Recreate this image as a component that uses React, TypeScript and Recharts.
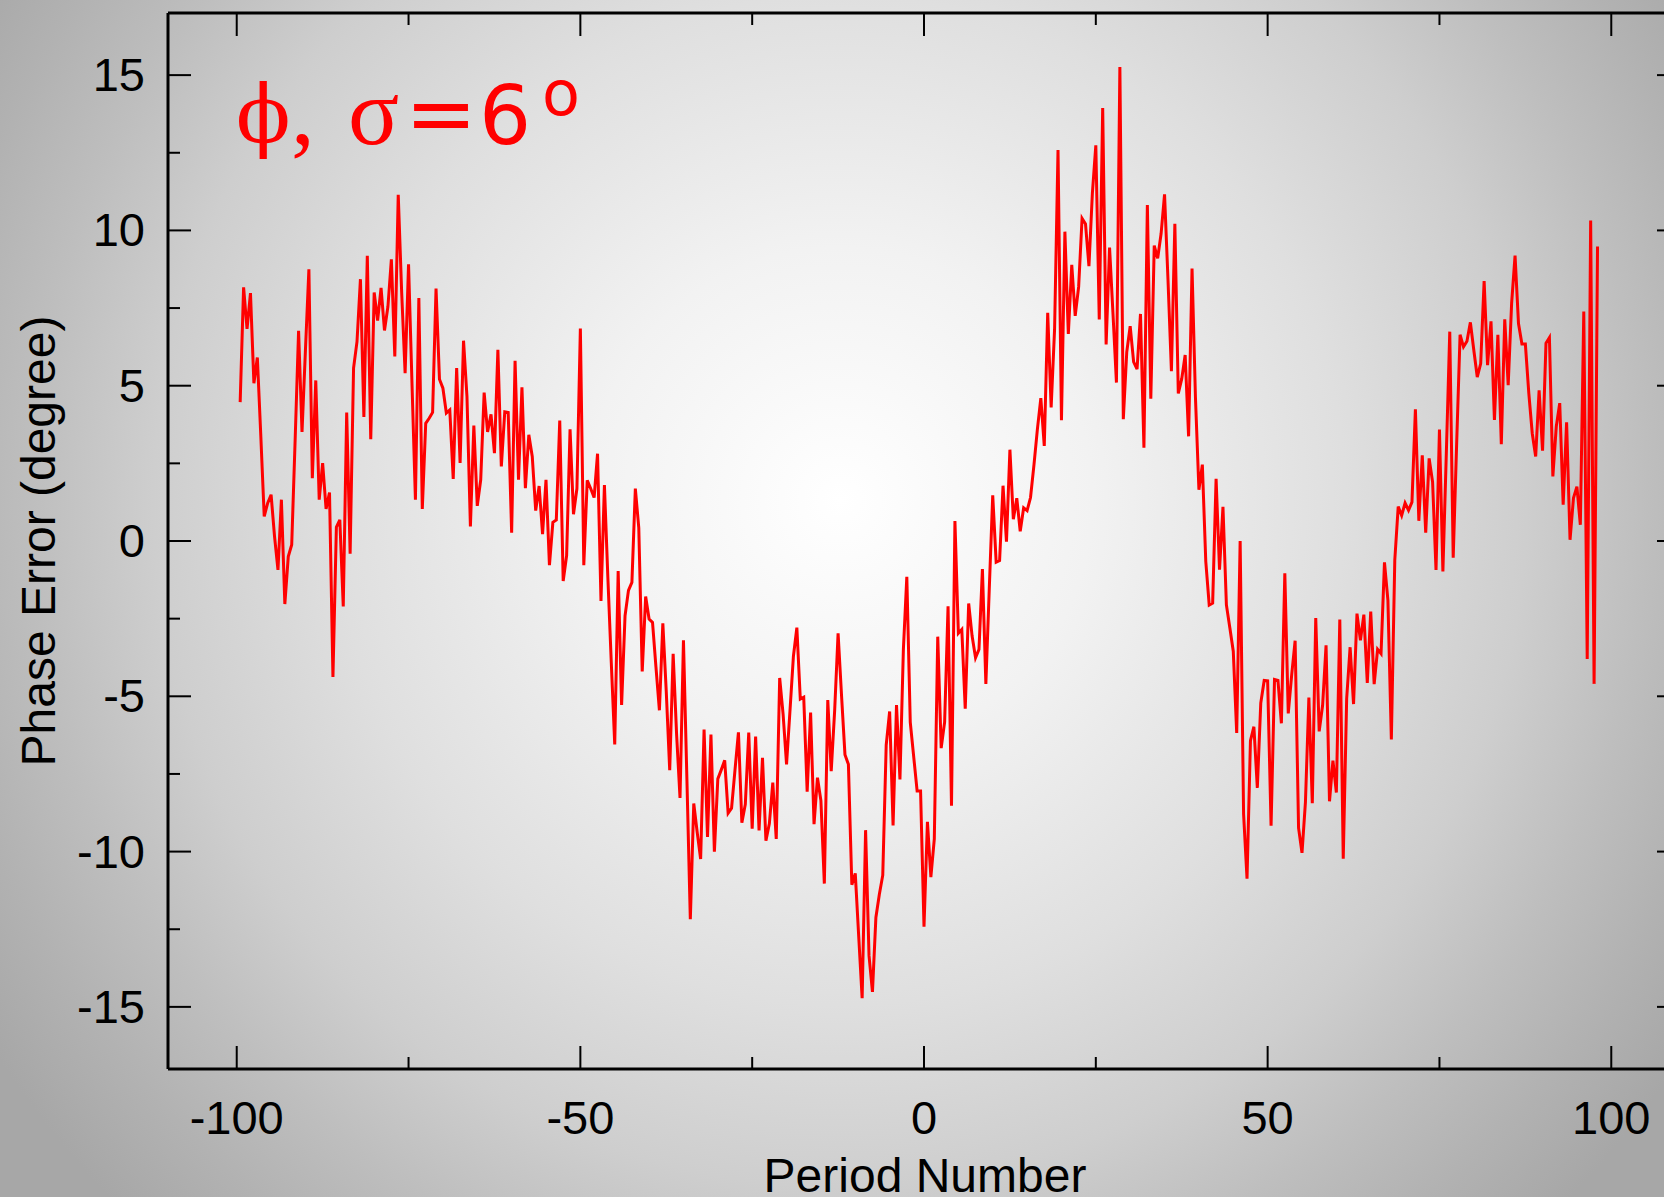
import React from 'react';
import { LineChart, Line, XAxis, YAxis } from 'recharts';

// ---- data ----
const PERIOD_START = -99.5;
const PERIOD_STEP = 0.5;

const PHASE_ERROR: number[] = [
  4.47, 8.17, 6.83, 7.98, 5.08, 5.91, 3.4, 0.79, 1.22, 1.49,
  0.15, -0.93, 1.33, -2.03, -0.5, -0.12, 3.26, 6.77, 3.51, 6.16,
  8.75, 2.02, 5.17, 1.33, 2.51, 1.03, 1.56, -4.38, 0.45, 0.68,
  -2.11, 4.14, -0.41, 5.57, 6.42, 8.43, 3.99, 9.18, 3.28, 8.0,
  7.1, 8.15, 6.78, 7.55, 9.07, 5.94, 11.15, 8.0, 5.4, 8.91,
  5.08, 1.33, 7.82, 1.03, 3.79, 3.95, 4.14, 8.13, 5.21, 4.92,
  4.12, 4.22, 2.0, 5.57, 2.51, 6.45, 4.65, 0.47, 3.72, 1.13,
  1.97, 4.78, 3.51, 4.08, 2.83, 6.16, 2.4, 4.16, 4.14, 0.27,
  5.8, 1.97, 4.95, 1.7, 3.42, 2.72, 0.98, 1.77, 0.22, 1.97,
  -0.78, 0.6, 0.68, 3.88, -1.29, -0.47, 3.6, 0.86, 1.69, 6.84,
  -0.78, 1.95, 1.69, 1.4, 2.81, -1.93, 1.8, -1.17, -3.92, -6.55,
  -0.97, -5.28, -2.41, -1.59, -1.33, 1.69, 0.42, -4.2, -1.79, -2.51,
  -2.62, -4.06, -5.45, -2.65, -4.86, -7.38, -3.63, -6.22, -8.27, -3.2,
  -7.65, -12.18, -8.45, -9.38, -10.24, -6.07, -9.53, -6.23, -10.0, -7.66,
  -7.37, -7.06, -8.76, -8.6, -7.37, -6.16, -9.07, -8.48, -6.17, -9.26,
  -6.3, -9.32, -6.98, -9.65, -9.1, -7.78, -9.59, -4.41, -5.58, -7.19,
  -5.46, -3.71, -2.79, -5.09, -5.03, -8.07, -5.52, -9.12, -7.62, -8.36,
  -11.03, -5.12, -7.41, -5.46, -2.97, -4.97, -6.88, -7.19, -11.07, -10.7,
  -12.73, -14.72, -9.31, -13.35, -14.52, -12.12, -11.38, -10.76, -6.57, -5.49,
  -9.16, -5.28, -7.68, -3.49, -1.15, -5.83, -6.94, -8.05, -8.05, -12.42,
  -9.04, -10.82, -9.59, -3.08, -6.67, -5.83, -2.1, -8.52, 0.64, -2.97,
  -2.85, -5.4, -2.01, -3.06, -3.76, -3.49, -0.9, -4.6, -1.52, 1.47,
  -0.68, -0.63, 1.78, -0.02, 2.94, 0.7, 1.38, 0.31, 1.07, 0.98,
  1.4, 2.45, 3.6, 4.6, 3.06, 7.35, 4.3, 6.82, 12.59, 3.89,
  9.96, 6.67, 8.89, 7.25, 8.18, 10.39, 10.21, 8.85, 11.2, 12.74,
  7.13, 13.94, 6.33, 9.45, 7.31, 5.1, 15.26, 3.92, 6.08, 6.92,
  5.77, 5.53, 7.31, 3.0, 10.82, 4.58, 9.51, 9.1, 9.9, 11.16,
  8.42, 5.47, 10.21, 4.75, 5.22, 5.99, 3.37, 8.77, 4.6, 1.65,
  2.46, -0.66, -2.06, -2.0, 2.0, -0.92, 1.1, -2.06, -2.79, -3.55,
  -6.18, 0.0, -8.79, -10.87, -6.43, -5.98, -7.95, -5.22, -4.49, -4.5,
  -9.17, -4.46, -4.49, -5.87, -1.04, -5.55, -4.31, -3.21, -9.24, -10.04,
  -8.41, -5.04, -8.44, -2.48, -6.13, -5.29, -3.36, -8.38, -7.07, -8.1,
  -2.53, -10.23, -5.07, -3.42, -5.25, -2.34, -3.2, -2.37, -4.57, -2.27,
  -4.61, -3.49, -3.63, -0.69, -1.91, -6.39, -0.62, 1.11, 0.82, 1.22,
  0.99, 1.25, 4.24, 0.65, 2.76, 0.27, 2.66, 1.9, -0.93, 3.59,
  -0.98, 2.83, 6.74, -0.54, 3.12, 6.64, 6.25, 6.43, 7.04, 6.14,
  5.28, 5.71, 8.37, 5.66, 7.07, 3.9, 6.64, 3.12, 7.14, 5.02,
  7.65, 9.19, 7.0, 6.34, 6.34, 4.76, 3.47, 2.72, 4.85, 2.91,
  6.37, 6.55, 2.08, 3.69, 4.44, 1.17, 3.82, 0.04, 1.38, 1.75,
  0.52, 7.39, -3.8, 10.32, -4.6, 9.48,
];

const X_DOMAIN: [number, number] = [-110, 110];
const Y_DOMAIN: [number, number] = [-17, 17];
const X_TICKS = [-100, -75, -50, -25, 0, 25, 50, 75, 100];
const X_MAJOR = [-100, -50, 0, 50, 100];
const Y_TICKS = [-15, -12.5, -10, -7.5, -5, -2.5, 0, 2.5, 5, 7.5, 10, 12.5, 15];
const Y_MAJOR = [-15, -10, -5, 0, 5, 10, 15];

const X_TITLE = 'Period Number';
const Y_TITLE = 'Phase Error (degree)';

const DATA = PHASE_ERROR.map((v, i) => ({
  period: PERIOD_START + i * PERIOD_STEP,
  phase: v,
}));

// ---- styling ----
const SANS = '"Liberation Sans", Arial, sans-serif';
const SERIF = '"Liberation Serif", "Times New Roman", serif';
const MAJOR_LEN = 23;
const MINOR_LEN = 12;
const TICK_FONT = 47;

const BottomTick = (props: any) => {
  const { x, y, payload } = props;
  const major = X_MAJOR.includes(payload.value);
  return (
    <g>
      <line x1={x} y1={y} x2={x} y2={y - (major ? MAJOR_LEN : MINOR_LEN)} stroke="#000" strokeWidth={2} />
      {major && (
        <text x={x} y={y + 65} textAnchor="middle" fontFamily={SANS} fontSize={TICK_FONT} fill="#000">
          {String(payload.value)}
        </text>
      )}
    </g>
  );
};

const TopTick = (props: any) => {
  const { x, y, payload } = props;
  const major = X_MAJOR.includes(payload.value);
  return (
    <line x1={x} y1={y} x2={x} y2={y + (major ? MAJOR_LEN : MINOR_LEN)} stroke="#000" strokeWidth={2} />
  );
};

const LeftTick = (props: any) => {
  const { x, y, payload } = props;
  const major = Y_MAJOR.includes(payload.value);
  return (
    <g>
      <line x1={x} y1={y} x2={x + (major ? MAJOR_LEN : MINOR_LEN)} y2={y} stroke="#000" strokeWidth={2} />
      {major && (
        <text x={x - 23} y={y + 16} textAnchor="end" fontFamily={SANS} fontSize={TICK_FONT} fill="#000">
          {String(payload.value)}
        </text>
      )}
    </g>
  );
};

const RightTick = (props: any) => {
  const { x, y, payload } = props;
  const major = Y_MAJOR.includes(payload.value);
  return (
    <line x1={x} y1={y} x2={x - (major ? MAJOR_LEN : MINOR_LEN)} y2={y} stroke="#000" strokeWidth={2} />
  );
};

const AXIS_LINE = { stroke: '#000', strokeWidth: 3 };

export default function App() {
  return (
    <div
      style={{
        position: 'absolute',
        left: 0,
        top: 0,
        width: 1664,
        height: 1197,
        overflow: 'hidden',
        background:
          'radial-gradient(circle 1010px at 840px 500px, #ffffff 0%, #f2f2f2 25%, #dfdfdf 50%, #cecece 68%, #bebebe 80%, #b2b2b2 90%, #a7a7a7 100%)',
      }}
    >
      <LineChart
        width={1700}
        height={1197}
        data={DATA}
        margin={{ top: 3, right: 10, bottom: 28, left: 68 }}
      >
        <XAxis
          xAxisId="bottom"
          orientation="bottom"
          dataKey="period"
          type="number"
          domain={X_DOMAIN}
          ticks={X_TICKS}
          interval={0}
          height={100}
          tickSize={0}
          tickMargin={0}
          tickLine={false}
          tick={BottomTick}
          axisLine={AXIS_LINE}
          allowDataOverflow
        />
        <XAxis
          xAxisId="top"
          orientation="top"
          dataKey="period"
          type="number"
          domain={X_DOMAIN}
          ticks={X_TICKS}
          interval={0}
          height={10}
          tickSize={0}
          tickMargin={0}
          tickLine={false}
          tick={TopTick}
          axisLine={AXIS_LINE}
          allowDataOverflow
        />
        <YAxis
          yAxisId="left"
          orientation="left"
          type="number"
          domain={Y_DOMAIN}
          ticks={Y_TICKS}
          interval={0}
          width={100}
          tickSize={0}
          tickMargin={0}
          tickLine={false}
          tick={LeftTick}
          axisLine={AXIS_LINE}
          allowDataOverflow
        />
        <YAxis
          yAxisId="right"
          orientation="right"
          type="number"
          domain={Y_DOMAIN}
          ticks={Y_TICKS}
          interval={0}
          width={10}
          tickSize={0}
          tickMargin={0}
          tickLine={false}
          tick={RightTick}
          axisLine={AXIS_LINE}
          allowDataOverflow
        />
        <Line
          xAxisId="bottom"
          yAxisId="left"
          type="linear"
          dataKey="phase"
          stroke="#ff0000"
          strokeWidth={3}
          dot={false}
          activeDot={false}
          isAnimationActive={false}
        />
      </LineChart>
      <svg
        width={1664}
        height={1197}
        style={{ position: 'absolute', left: 0, top: 0, pointerEvents: 'none' }}
      >
        <text x={925} y={1192} textAnchor="middle" fontFamily={SANS} fontSize={48} fill="#000">
          {X_TITLE}
        </text>
        <text
          x={0}
          y={0}
          transform="translate(55,541) rotate(-90)"
          textAnchor="middle"
          fontFamily={SANS}
          fontSize={48}
          fill="#000"
        >
          {Y_TITLE}
        </text>
        <g fill="#ff0000">
          <text x={236} y={142} fontFamily='"DejaVu Serif", serif' fontSize={80}>ϕ</text>
          <text x={291} y={144} fontFamily={SERIF} fontSize={95}>,</text>
          <text x={348} y={144} fontFamily={SERIF} fontSize={95}>σ</text>
          <text x={405} y={143} fontFamily='"DejaVu Sans", sans-serif' fontSize={86}>=</text>
          <text x={479} y={144} fontFamily='"DejaVu Sans", sans-serif' fontSize={82}>6</text>
          <text x={542} y={115} fontFamily='"DejaVu Sans", sans-serif' fontSize={62}>o</text>
        </g>
      </svg>
    </div>
  );
}
